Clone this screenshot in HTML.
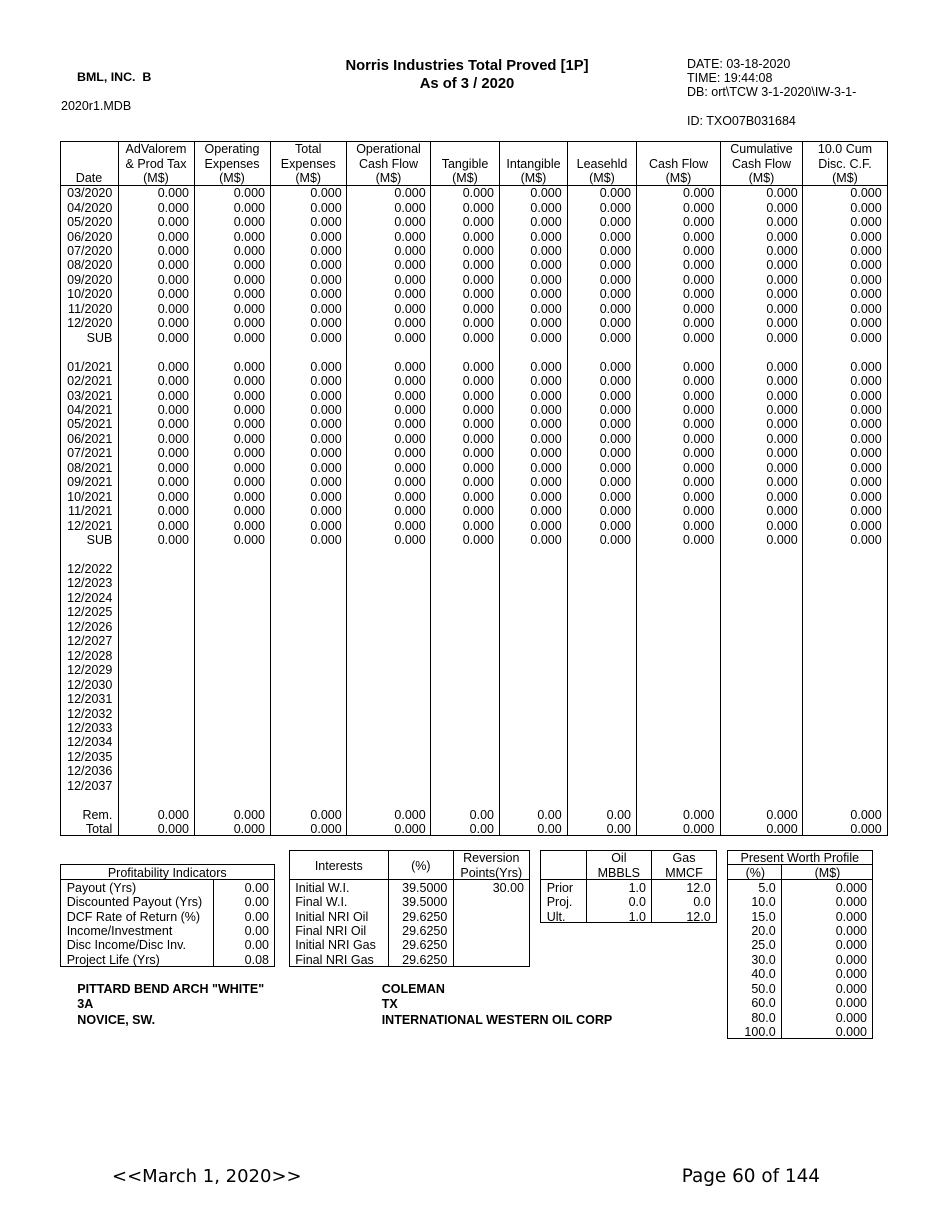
<!DOCTYPE html>
<html>
<head>
<meta charset="utf-8">
<style>
html,body{margin:0;padding:0;background:#fff;}
#pg{position:relative;width:930px;height:1206px;overflow:hidden;background:#fff;}
.t{position:absolute;white-space:pre;font-family:"Liberation Sans",Arial,sans-serif;font-size:12.5px;line-height:14.45px;color:#000;}
.v{top:186.2px;text-align:right;}
.m{top:807.55px;text-align:right;}
.h{top:142.2px;text-align:center;}
.b{font-weight:bold;}
svg{position:absolute;left:0;top:0;}
</style>
</head>
<body>
<div id="pg">
<svg width="930" height="1206" shape-rendering="crispEdges">
<g stroke="#000" stroke-width="1" fill="none">
<rect x="60.5" y="141.5" width="827" height="694"/>
<line x1="60" y1="185.5" x2="888" y2="185.5"/>
<line x1="118.5" y1="141" x2="118.5" y2="836"/>
<line x1="194.5" y1="141" x2="194.5" y2="836"/>
<line x1="270.5" y1="141" x2="270.5" y2="836"/>
<line x1="346.5" y1="141" x2="346.5" y2="836"/>
<line x1="430.5" y1="141" x2="430.5" y2="836"/>
<line x1="499.5" y1="141" x2="499.5" y2="836"/>
<line x1="567.5" y1="141" x2="567.5" y2="836"/>
<line x1="636.5" y1="141" x2="636.5" y2="836"/>
<line x1="720.5" y1="141" x2="720.5" y2="836"/>
<line x1="802.5" y1="141" x2="802.5" y2="836"/>

<rect x="60.5" y="864.5" width="214" height="102"/>
<line x1="60" y1="879.5" x2="275" y2="879.5"/>
<line x1="213.5" y1="879.5" x2="213.5" y2="966.5"/>

<rect x="289.5" y="850.5" width="240" height="116"/>
<line x1="289" y1="879.5" x2="530" y2="879.5"/>
<line x1="388.5" y1="850.5" x2="388.5" y2="966.5"/>
<line x1="453.5" y1="850.5" x2="453.5" y2="966.5"/>

<rect x="540.5" y="850.5" width="176" height="72"/>
<line x1="540" y1="879.5" x2="717" y2="879.5"/>
<line x1="586.5" y1="850.5" x2="586.5" y2="922.5"/>
<line x1="651.5" y1="850.5" x2="651.5" y2="922.5"/>

<rect x="727.5" y="850.5" width="145" height="188"/>
<line x1="727" y1="864.5" x2="873" y2="864.5"/>
<line x1="727" y1="879.5" x2="873" y2="879.5"/>
<line x1="781.5" y1="864.5" x2="781.5" y2="1038.5"/>
</g>
</svg>

<!-- Header -->
<div class="t b" style="left:77px;top:70.2px;font-size:12.4px;line-height:14px;">BML, INC.&nbsp; B</div>
<div class="t" style="left:61px;top:99.2px;">2020r1.MDB</div>
<div class="t b" style="left:267px;width:400px;top:56.8px;font-size:14.8px;line-height:18px;text-align:center;">Norris Industries Total Proved [1P]
As of 3 / 2020</div>
<div class="t" style="left:687px;top:56.5px;line-height:14.25px;">DATE: 03-18-2020
TIME: 19:44:08
DB: ort\TCW 3-1-2020\IW-3-1-

ID: TXO07B031684</div>

<!-- Column headers -->
<div class="t h" style="left:60px;width:58px;">

Date</div>
<div class="t h" style="left:118px;width:76px;">AdValorem
&amp; Prod Tax
(M$)</div>
<div class="t h" style="left:194px;width:76px;">Operating
Expenses
(M$)</div>
<div class="t h" style="left:270px;width:76.5px;">Total
Expenses
(M$)</div>
<div class="t h" style="left:346.5px;width:84px;">Operational
Cash Flow
(M$)</div>
<div class="t h" style="left:430.5px;width:69px;">
Tangible
(M$)</div>
<div class="t h" style="left:499.5px;width:68px;">
Intangible
(M$)</div>
<div class="t h" style="left:567.5px;width:69px;">
Leasehld
(M$)</div>
<div class="t h" style="left:636.5px;width:84px;">
Cash Flow
(M$)</div>
<div class="t h" style="left:720.5px;width:82px;">Cumulative
Cash Flow
(M$)</div>
<div class="t h" style="left:802.5px;width:85px;">10.0 Cum
Disc. C.F.
(M$)</div>

<!-- Date column -->
<div class="t" style="right:817.7px;top:186.2px;text-align:right;">03/2020
04/2020
05/2020
06/2020
07/2020
08/2020
09/2020
10/2020
11/2020
12/2020
SUB

01/2021
02/2021
03/2021
04/2021
05/2021
06/2021
07/2021
08/2021
09/2021
10/2021
11/2021
12/2021
SUB

12/2022
12/2023
12/2024
12/2025
12/2026
12/2027
12/2028
12/2029
12/2030
12/2031
12/2032
12/2033
12/2034
12/2035
12/2036
12/2037

Rem.
Total</div>

<!-- Value columns -->
<div class="t v" style="right:741px;">0.000
0.000
0.000
0.000
0.000
0.000
0.000
0.000
0.000
0.000
0.000

0.000
0.000
0.000
0.000
0.000
0.000
0.000
0.000
0.000
0.000
0.000
0.000
0.000</div>
<div class="t v" style="right:665px;">0.000
0.000
0.000
0.000
0.000
0.000
0.000
0.000
0.000
0.000
0.000

0.000
0.000
0.000
0.000
0.000
0.000
0.000
0.000
0.000
0.000
0.000
0.000
0.000</div>
<div class="t v" style="right:588.3px;">0.000
0.000
0.000
0.000
0.000
0.000
0.000
0.000
0.000
0.000
0.000

0.000
0.000
0.000
0.000
0.000
0.000
0.000
0.000
0.000
0.000
0.000
0.000
0.000</div>
<div class="t v" style="right:504.3px;">0.000
0.000
0.000
0.000
0.000
0.000
0.000
0.000
0.000
0.000
0.000

0.000
0.000
0.000
0.000
0.000
0.000
0.000
0.000
0.000
0.000
0.000
0.000
0.000</div>
<div class="t v" style="right:436px;">0.000
0.000
0.000
0.000
0.000
0.000
0.000
0.000
0.000
0.000
0.000

0.000
0.000
0.000
0.000
0.000
0.000
0.000
0.000
0.000
0.000
0.000
0.000
0.000</div>
<div class="t v" style="right:368.3px;">0.000
0.000
0.000
0.000
0.000
0.000
0.000
0.000
0.000
0.000
0.000

0.000
0.000
0.000
0.000
0.000
0.000
0.000
0.000
0.000
0.000
0.000
0.000
0.000</div>
<div class="t v" style="right:299px;">0.000
0.000
0.000
0.000
0.000
0.000
0.000
0.000
0.000
0.000
0.000

0.000
0.000
0.000
0.000
0.000
0.000
0.000
0.000
0.000
0.000
0.000
0.000
0.000</div>
<div class="t v" style="right:215.7px;">0.000
0.000
0.000
0.000
0.000
0.000
0.000
0.000
0.000
0.000
0.000

0.000
0.000
0.000
0.000
0.000
0.000
0.000
0.000
0.000
0.000
0.000
0.000
0.000</div>
<div class="t v" style="right:132.3px;">0.000
0.000
0.000
0.000
0.000
0.000
0.000
0.000
0.000
0.000
0.000

0.000
0.000
0.000
0.000
0.000
0.000
0.000
0.000
0.000
0.000
0.000
0.000
0.000</div>
<div class="t v" style="right:48.3px;">0.000
0.000
0.000
0.000
0.000
0.000
0.000
0.000
0.000
0.000
0.000

0.000
0.000
0.000
0.000
0.000
0.000
0.000
0.000
0.000
0.000
0.000
0.000
0.000</div>

<!-- Rem / Total -->
<div class="t m" style="right:741px;">0.000
0.000</div>
<div class="t m" style="right:665px;">0.000
0.000</div>
<div class="t m" style="right:588.3px;">0.000
0.000</div>
<div class="t m" style="right:504.3px;">0.000
0.000</div>
<div class="t m" style="right:436px;">0.00
0.00</div>
<div class="t m" style="right:368.3px;">0.00
0.00</div>
<div class="t m" style="right:299px;">0.00
0.00</div>
<div class="t m" style="right:215.7px;">0.000
0.000</div>
<div class="t m" style="right:132.3px;">0.000
0.000</div>
<div class="t m" style="right:48.3px;">0.000
0.000</div>

<!-- Profitability -->
<div class="t" style="left:60px;width:214.5px;top:866.2px;text-align:center;">Profitability Indicators</div>
<div class="t" style="left:66.7px;top:880.6px;">Payout (Yrs)
Discounted Payout (Yrs)
DCF Rate of Return (%)
Income/Investment
Disc Income/Disc Inv.
Project Life (Yrs)</div>
<div class="t" style="right:661px;top:880.6px;text-align:right;">0.00
0.00
0.00
0.00
0.00
0.08</div>

<!-- Interests -->
<div class="t" style="left:289.3px;width:99px;top:858.6px;text-align:center;">Interests</div>
<div class="t" style="left:388.3px;width:65px;top:858.6px;text-align:center;">(%)</div>
<div class="t" style="left:453.3px;width:76px;top:850.9px;line-height:15px;text-align:center;">Reversion
Points(Yrs)</div>
<div class="t" style="left:295.3px;top:880.6px;">Initial W.I.
Final W.I.
Initial NRI Oil
Final NRI Oil
Initial NRI Gas
Final NRI Gas</div>
<div class="t" style="right:482.7px;top:880.6px;text-align:right;">39.5000
39.5000
29.6250
29.6250
29.6250
29.6250</div>
<div class="t" style="right:406px;top:880.6px;text-align:right;">30.00</div>

<!-- Oil/Gas -->
<div class="t" style="left:586px;width:65.7px;top:850.9px;line-height:15px;text-align:center;">Oil
MBBLS</div>
<div class="t" style="left:651.7px;width:64.6px;top:850.9px;line-height:15px;text-align:center;">Gas
MMCF</div>
<div class="t" style="left:546.7px;top:880.6px;">Prior
Proj.
Ult.</div>
<div class="t" style="right:284px;top:880.6px;text-align:right;">1.0
0.0
1.0</div>
<div class="t" style="right:219.3px;top:880.6px;text-align:right;">12.0
0.0
12.0</div>

<!-- Present Worth -->
<div class="t" style="left:727.3px;width:145px;top:850.9px;text-align:center;">Present Worth Profile</div>
<div class="t" style="left:727.3px;width:56px;top:865.9px;text-align:center;">(%)</div>
<div class="t" style="left:781px;width:93px;top:865.9px;text-align:center;">(M$)</div>
<div class="t" style="right:154.3px;top:880.6px;text-align:right;">5.0
10.0
15.0
20.0
25.0
30.0
40.0
50.0
60.0
80.0
100.0</div>
<div class="t" style="right:63px;top:880.6px;text-align:right;">0.000
0.000
0.000
0.000
0.000
0.000
0.000
0.000
0.000
0.000
0.000</div>

<!-- Lease info -->
<div class="t b" style="left:77.3px;top:981.5px;line-height:15.5px;">PITTARD BEND ARCH "WHITE"
3A
NOVICE, SW.</div>
<div class="t b" style="left:381.7px;top:981.5px;line-height:15.5px;">COLEMAN
TX
INTERNATIONAL WESTERN OIL CORP</div>

<!-- Footer -->
<div class="t" style="left:112px;top:1166.5px;font-family:'DejaVu Sans',Verdana,sans-serif;font-size:18px;line-height:20px;">&lt;&lt;March 1, 2020&gt;&gt;</div>
<div class="t" style="right:110px;top:1166.5px;font-family:'DejaVu Sans',Verdana,sans-serif;font-size:18.4px;line-height:20px;text-align:right;">Page 60 of 144</div>
</div>
</body>
</html>
